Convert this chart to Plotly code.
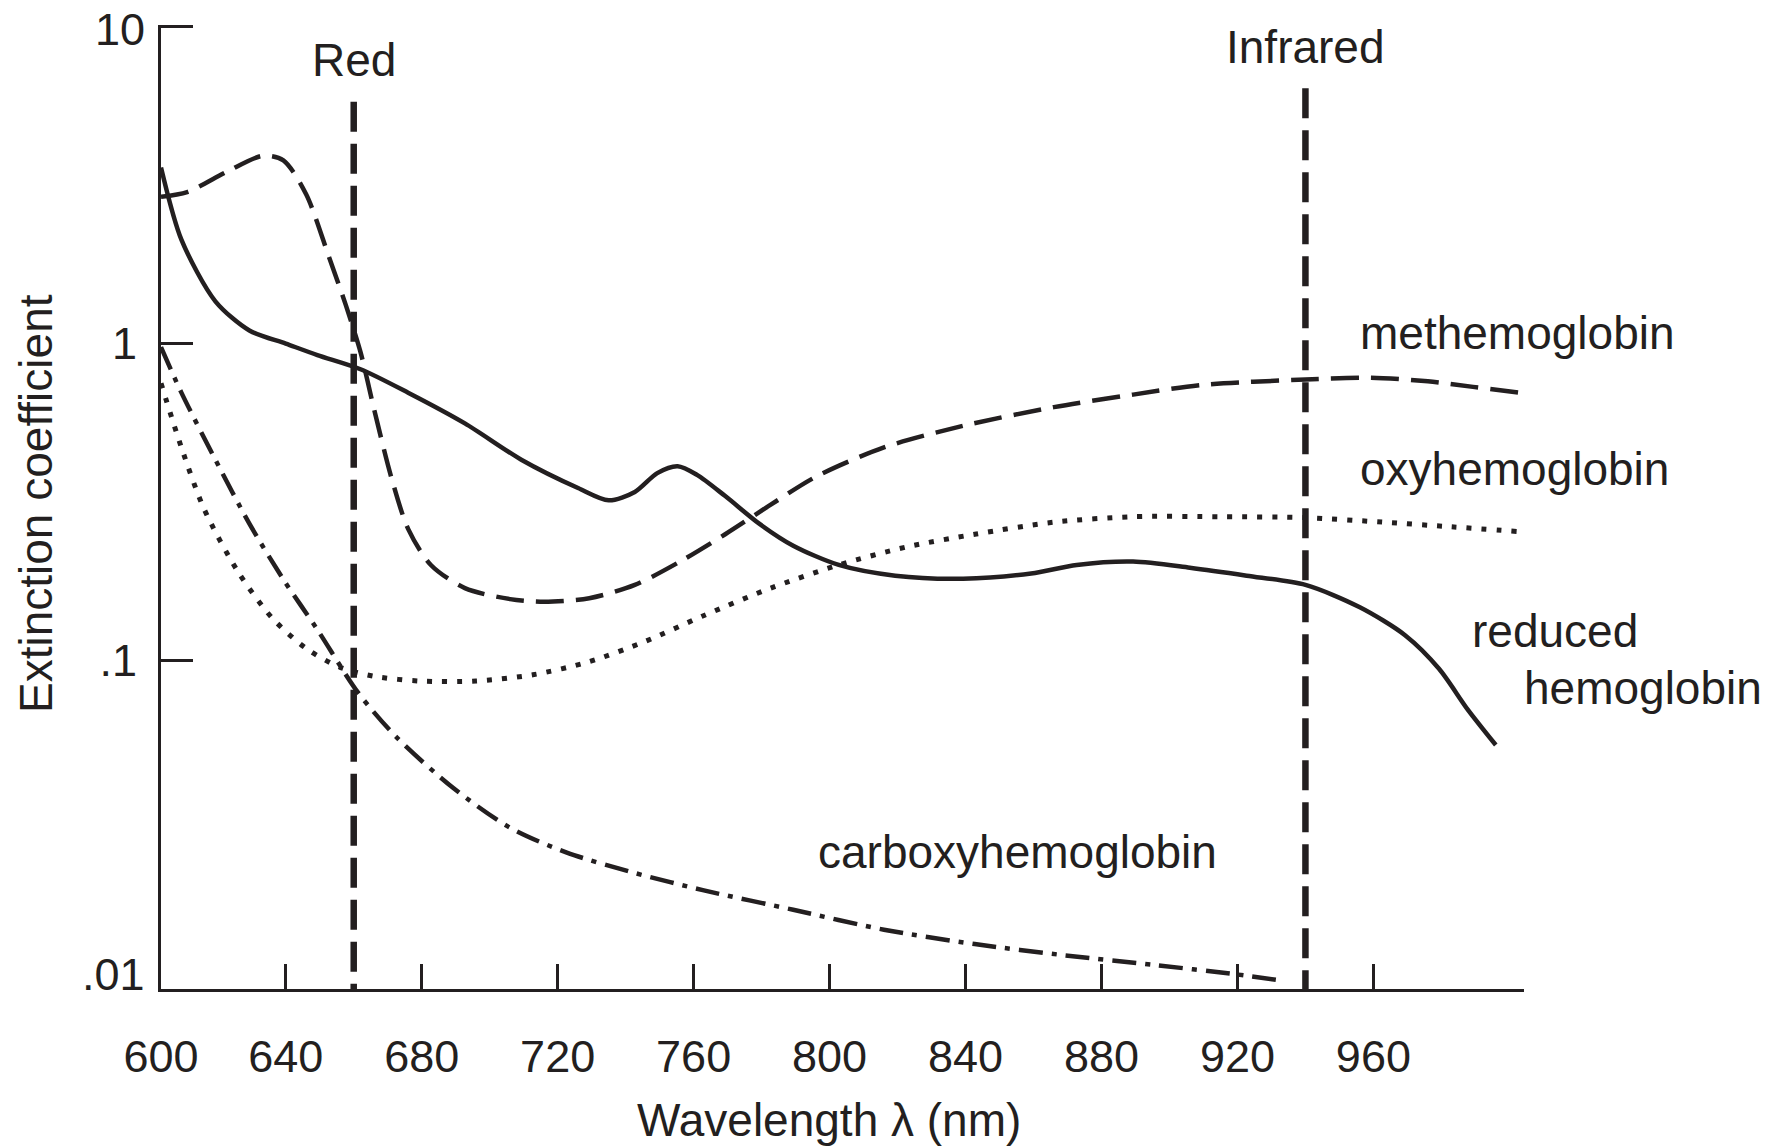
import math
import plotly.graph_objects as go

# ---------------- data ----------------
reduced_nm = [603.3, 609.3, 619.3, 629.3, 640, 649.3, 662, 676, 692.7, 709.3, 726, 735,
              742.7, 749.3, 755.3, 761, 769.3, 779.3, 789.3, 802.7, 819.3, 839.3, 859.3,
              872.7, 889.3, 906, 922.7, 940, 956, 969.3, 979.3, 987.7, 996]
reduced_val = [3.6, 2.13, 1.36, 1.10, 1.0, 0.92, 0.83, 0.70, 0.56, 0.43, 0.35, 0.32,
               0.34, 0.39, 0.41, 0.385, 0.33, 0.27, 0.23, 0.20, 0.185, 0.181, 0.188,
               0.20, 0.205, 0.196, 0.185, 0.173, 0.147, 0.12, 0.094, 0.070, 0.054]

met_nm = [603.3, 611, 622.7, 633.3, 639.3, 646, 652.7, 657.7, 662, 666, 671, 676, 682.7,
          692.7, 706, 716, 729.3, 742.7, 756, 769.3, 782.7, 796, 816, 839.3, 866, 889.3,
          909.3, 940, 959.3, 976, 989.3, 1002.7]
met_val = [2.91, 3.01, 3.49, 3.92, 3.79, 2.96, 1.88, 1.32, 0.94, 0.62, 0.38, 0.26, 0.20,
           0.169, 0.156, 0.153, 0.157, 0.173, 0.205, 0.25, 0.31, 0.38, 0.47, 0.55, 0.63,
           0.69, 0.74, 0.77, 0.78, 0.76, 0.73, 0.70]

oxy_nm = [603.3, 609.3, 616, 626, 636, 646, 656, 666, 679.3, 696, 712.7, 729.3, 746,
          762.7, 782.7, 802.7, 822.7, 842.7, 866, 889.3, 916, 940, 962.7, 982.7, 1002.7]
oxy_val = [0.75, 0.47, 0.30, 0.19, 0.136, 0.109, 0.095, 0.089, 0.086, 0.086, 0.090, 0.099,
           0.115, 0.138, 0.169, 0.20, 0.228, 0.25, 0.273, 0.284, 0.284, 0.282, 0.273,
           0.264, 0.255]

carboxy_nm = [603.3, 609.3, 619.3, 629.3, 639.3, 649.3, 661.3, 672.7, 689.3, 706, 722.7,
              742.7, 762.7, 789.3, 816, 842.7, 869.3, 896, 919.3, 934]
carboxy_val = [0.975, 0.70, 0.43, 0.27, 0.18, 0.125, 0.079, 0.057, 0.0395, 0.0296, 0.0247,
               0.0213, 0.0188, 0.0163, 0.0141, 0.0127, 0.0117, 0.0109, 0.0102, 0.0097]

# wavelength markers (nm) and the height at which each dashed marker line starts
marker_nm = [660, 940]
marker_names = ["Red", "Infrared"]
marker_top = [5.8, 6.4]

# axes
x_range = [603.3, 1004.3]
y_range_log = [-2.038, 1.006]
x_tickvals = [603.3, 640, 680, 720, 760, 800, 840, 880, 920, 960, 1004.3]
x_ticktext = ["600", "640", "680", "720", "760", "800", "840", "880", "920", "960", ""]
y_tickvals = [10, 1, 0.1]
y_ticktext = ["", "1", ".1"]
y_edge_labels = [(10, "10"), (0.01, ".01")]   # drawn as annotations at the axis ends
x_title = "Wavelength λ (nm)"
y_title = "Extinction coefficient"

# label anchor positions in page pixels (left edge / vertical centre)
series_labels = [
    ("methemoglobin", 1358, 333),
    ("oxyhemoglobin", 1358, 469),
    ("reduced", 1470, 631),
    ("hemoglobin", 1522, 688),
    ("carboxyhemoglobin", 816, 852),
]

# ---------------- styling ----------------
INK = "#231f20"
FONT = "Liberation Sans, Arial, Helvetica, sans-serif"
OFF = 8                      # default page body margin
W, H = 1777 - OFF, 1146 - OFF
ML, MT = 161 - OFF, 25 - OFF
PW, PH = 1524 - 161, 989 - 25
MR, MB = W - ML - PW, H - MT - PH


def px_to_paper(px, py):
    return (px - OFF - ML) / PW, 1 - (py - OFF - MT) / PH


fig = go.Figure()

fig.add_trace(go.Scatter(x=reduced_nm, y=reduced_val, mode="lines",
                         line=dict(color=INK, width=4.5, shape="spline", smoothing=0.8),
                         name="reduced hemoglobin"))
fig.add_trace(go.Scatter(x=met_nm, y=met_val, mode="lines",
                         line=dict(color=INK, width=4.5, shape="spline", smoothing=0.8,
                                   dash="28px,12px"),
                         name="methemoglobin"))
fig.add_trace(go.Scatter(x=oxy_nm, y=oxy_val, mode="lines",
                         line=dict(color=INK, width=5, shape="spline", smoothing=0.8,
                                   dash="5px,10px"),
                         name="oxyhemoglobin"))
fig.add_trace(go.Scatter(x=carboxy_nm, y=carboxy_val, mode="lines",
                         line=dict(color=INK, width=4.5, shape="spline", smoothing=0.8,
                                   dash="24px,9px,5px,9px"),
                         name="carboxyhemoglobin"))

ymin = 10 ** y_range_log[0]
for nm, top in zip(marker_nm, marker_top):
    fig.add_trace(go.Scatter(x=[nm, nm], y=[top, ymin], mode="lines",
                             line=dict(color=INK, width=6.5, dash="30px,12px"),
                             hoverinfo="skip"))

annotations = []
for nm, name, top in zip(marker_nm, marker_names, marker_top):
    annotations.append(dict(x=nm, y=math.log10(top), xref="x", yref="y", text=name,
                            showarrow=False, yanchor="bottom",
                            yshift=14 if name == "Red" else 13,
                            font=dict(family=FONT, size=46, color=INK)))

for text, px, py in series_labels:
    ax, ay = px_to_paper(px, py)
    annotations.append(dict(x=ax, y=ay, xref="paper", yref="paper", text=text,
                            showarrow=False, xanchor="left", yanchor="middle",
                            font=dict(family=FONT, size=46, color=INK)))

for val, text in y_edge_labels:
    annotations.append(dict(x=0, y=math.log10(val), xref="paper", yref="y",
                            text=text, showarrow=False, xanchor="right",
                            yanchor="middle", xshift=-14,
                            yshift=-3 if val > 1 else 2,
                            font=dict(family=FONT, size=45, color=INK)))

tx, ty = px_to_paper(829, 1120)
annotations.append(dict(x=tx, y=ty, xref="paper", yref="paper", text=x_title,
                        showarrow=False, xanchor="center", yanchor="middle",
                        font=dict(family=FONT, size=46, color=INK)))
tx, ty = px_to_paper(36, 504)
annotations.append(dict(x=tx, y=ty, xref="paper", yref="paper", text=y_title,
                        showarrow=False, xanchor="center", yanchor="middle", textangle=-90,
                        font=dict(family=FONT, size=46, color=INK)))

fig.update_layout(
    width=W, height=H,
    margin=dict(l=ML, r=MR, t=MT, b=MB, pad=0, autoexpand=False),
    paper_bgcolor="white", plot_bgcolor="white",
    showlegend=False,
    font=dict(family=FONT, size=45, color=INK),
    annotations=annotations,
    xaxis=dict(range=x_range, showgrid=False, zeroline=False, automargin=False,
               showline=True, linecolor=INK, linewidth=3,
               ticks="inside", ticklen=25, tickwidth=2.5, tickcolor=INK,
               tickvals=x_tickvals, ticktext=x_ticktext,
               ticklabelstandoff=26,
               tickfont=dict(family=FONT, size=45, color=INK)),
    yaxis=dict(type="log", range=y_range_log, showgrid=False, zeroline=False,
               automargin=False,
               showline=True, linecolor=INK, linewidth=3,
               ticks="inside", ticklen=32, tickwidth=2.5, tickcolor=INK,
               tickvals=y_tickvals, ticktext=y_ticktext,
               ticklabelstandoff=12,
               tickfont=dict(family=FONT, size=45, color=INK)),
)

fig.write_html("out.html")
